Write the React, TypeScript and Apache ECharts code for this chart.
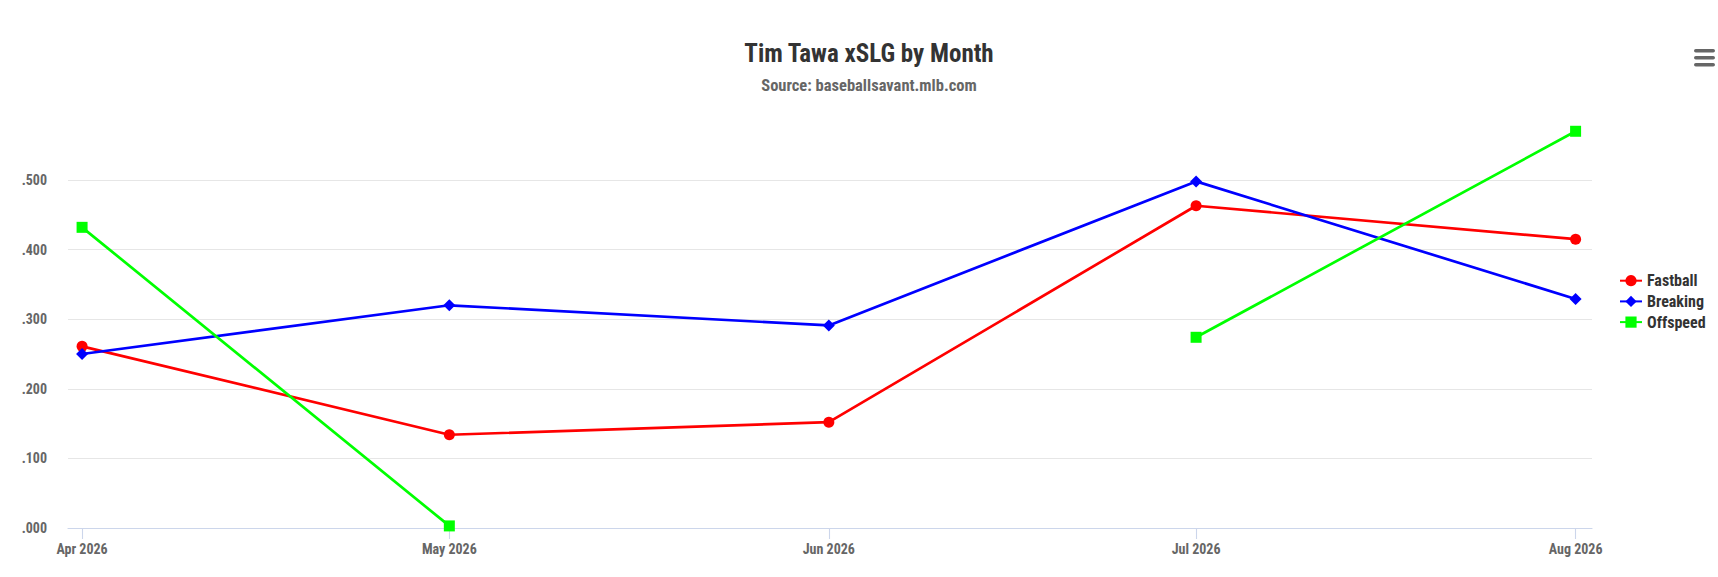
import React, { useEffect, useRef } from 'react';
import * as echarts from 'echarts';

const DAY = 86400000;
const monthDates = [
  Date.UTC(2026, 3, 1),
  Date.UTC(2026, 4, 1),
  Date.UTC(2026, 5, 1),
  Date.UTC(2026, 6, 1),
  Date.UTC(2026, 7, 1),
];
const monthLabels = ['Apr 2026', 'May 2026', 'Jun 2026', 'Jul 2026', 'Aug 2026'];
const fastball = [0.261, 0.134, 0.152, 0.463, 0.415];
const breaking = [0.25, 0.32, 0.291, 0.498, 0.329];
const offspeed: (number | null)[] = [0.432, 0.003, null, 0.274, 0.57];
const seriesNames = ['Fastball', 'Breaking', 'Offspeed'];
const seriesColors = ['#ff0000', '#0000ff', '#00ff00'];

const FONT = "'Roboto Condensed', 'Liberation Sans Narrow', 'Arial Narrow', Roboto, sans-serif";

function toPairs(vals: (number | null)[]) {
  return vals.map((v, i) => [monthDates[i], v === null ? '-' : v]);
}

function monthLabel(v: number) {
  const i = monthDates.findIndex((d) => Math.abs(d - v) < DAY / 2);
  return i >= 0 ? monthLabels[i] : '';
}

export default function App() {
  const ref = useRef<HTMLDivElement>(null);
  useEffect(() => {
    document.body.style.margin = '0';
    if (!ref.current) return;
    const chart = echarts.init(ref.current, undefined, { renderer: 'svg' });
    const symbols = ['circle', 'diamond', 'rect'];
    const sizes = [11, 12, 11];
    const dataSets = [fastball, breaking, offspeed];
    chart.setOption({
      animation: false,
      backgroundColor: '#ffffff',
      title: [
        {
          text: 'Tim Tawa xSLG by Month',
          left: 864,
          textAlign: 'center',
          top: 36,
          textStyle: { fontFamily: FONT, fontSize: 25, fontWeight: 'bold', color: '#333333' },
        },
        {
          text: 'Source: baseballsavant.mlb.com',
          left: 864,
          textAlign: 'center',
          top: 72,
          textStyle: { fontFamily: FONT, fontSize: 16.5, fontWeight: 'bold', color: '#666666' },
        },
      ],
      legend: {
        orient: 'vertical',
        left: 1614,
        top: 267.7,
        itemWidth: 22,
        itemHeight: 14,
        itemGap: 4.7,
        data: seriesNames,
        textStyle: { fontFamily: FONT, fontSize: 16, fontWeight: 'bold', color: '#333333' },
      },
      grid: { left: 68, right: 126, top: 110.4, bottom: 49, containLabel: false },
      xAxis: {
        type: 'value',
        min: monthDates[0] - 1.15 * DAY,
        max: monthDates[monthDates.length - 1] + 1.34 * DAY,
        axisLine: { show: true, lineStyle: { color: '#ccd6eb', width: 1.1 } },
        axisTick: { show: true, customValues: monthDates, length: 11, lineStyle: { color: '#ccd6eb', width: 1.1 } },
        axisLabel: {
          customValues: monthDates,
          formatter: (v: number) => monthLabel(v),
          fontFamily: FONT,
          fontSize: 14,
          fontWeight: 'bold',
          color: '#666666',
          margin: 14,
        },
        splitLine: { show: false },
      },
      yAxis: {
        type: 'value',
        min: 0,
        max: 0.6,
        interval: 0.1,
        axisLine: { show: false },
        axisTick: { show: false },
        axisLabel: {
          formatter: (v: number) => v.toFixed(3).replace(/^0/, ''),
          showMaxLabel: false,
          fontFamily: FONT,
          fontSize: 14,
          fontWeight: 'bold',
          color: '#666666',
          margin: 21,
        },
        splitLine: { show: true, showMaxLine: false, lineStyle: { color: '#e6e6e6', width: 1.2 } },
      },
      series: seriesNames.map((name, i) => ({
        name,
        type: 'line',
        data: toPairs(dataSets[i]),
        symbol: symbols[i],
        symbolSize: sizes[i],
        showAllSymbol: true,
        connectNulls: false,
        itemStyle: { color: seriesColors[i] },
        lineStyle: { color: seriesColors[i], width: 2.7 },
        emphasis: { disabled: true },
      })),
      graphic: [
        { type: 'rect', shape: { x: 1694, y: 49, width: 21, height: 3.6, r: 1.8 }, style: { fill: '#666666' } },
        { type: 'rect', shape: { x: 1694, y: 56, width: 21, height: 3.6, r: 1.8 }, style: { fill: '#666666' } },
        { type: 'rect', shape: { x: 1694, y: 63, width: 21, height: 3.6, r: 1.8 }, style: { fill: '#666666' } },
      ],
    });
    return () => chart.dispose();
  }, []);
  return <div ref={ref} style={{ width: 1718, height: 577 }} />;
}
